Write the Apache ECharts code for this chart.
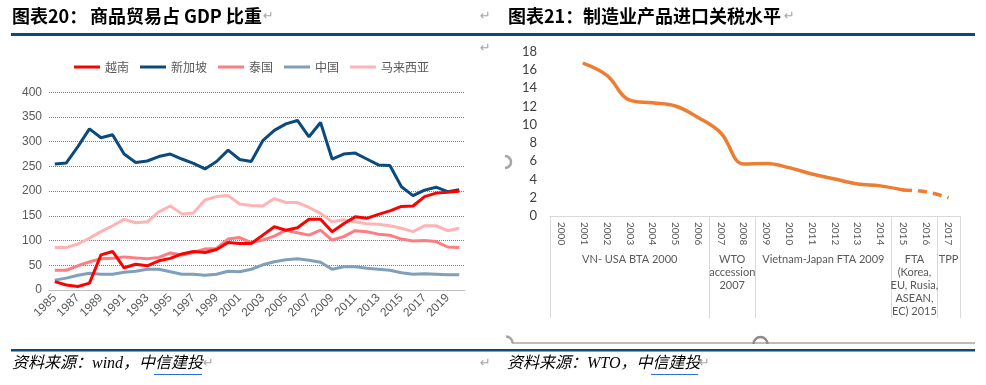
<!DOCTYPE html>
<html><head><meta charset="utf-8">
<script src="https://cdn.jsdelivr.net/npm/echarts@6/dist/echarts.min.js"></script>
<style>html,body{margin:0;padding:0;background:#fff}#c{width:986px;height:385px}</style>
</head><body><div id="c"></div>
<script>
// ---- Left chart: 商品贸易占 GDP 比重 ----
const years = ['1985','1986','1987','1988','1989','1990','1991','1992','1993','1994','1995','1996','1997','1998','1999','2000','2001','2002','2003','2004','2005','2006','2007','2008','2009','2010','2011','2012','2013','2014','2015','2016','2017','2018','2019','2020'];
const vietnam   = [17,10,7,14,71,78,45,52,49,59,64,73,78,76,82,96,94,94,111,128,121,126,143,143,118,134,148,145,153,160,169,170,189,196,198,200];
const singapore = [255,257,290,326,308,314,275,258,261,270,275,265,256,245,260,283,264,260,302,323,336,343,310,339,265,275,277,265,253,252,209,191,202,208,199,203];
const thailand  = [40,40,49,57,63,64,67,65,63,66,75,71,76,83,84,103,106,96,101,109,121,116,111,121,101,108,120,118,113,111,103,99,100,98,87,86];
const china     = [20,24,30,34,32,32,36,38,42,42,37,32,32,30,32,38,37,42,51,57,61,63,60,56,42,47,47,44,42,40,35,32,33,32,31,31];
const malaysia  = [86,86,93,105,118,130,143,136,138,158,170,154,156,182,189,191,174,171,170,185,177,177,167,155,138,142,138,134,133,130,125,118,130,130,120,125];
const leftNames = ['越南','新加坡','泰国','中国','马来西亚'];
const leftColors = ['#ff0000','#0b4a7c','#ff7c80','#7f9fba','#ffb3b5'];
const leftTicks = [0,50,100,150,200,250,300,350,400];

// ---- Right chart: 制造业产品进口关税水平 ----
const tariffYears = ['2000','2001','2002','2003','2004','2005','2006','2007','2008','2009','2010','2011','2012','2013','2014','2015','2016','2017'];
const tariffActual   = [null,16.7,15.4,12.7,12.4,12.05,10.8,9.1,5.7,5.75,5.3,4.6,4.05,3.5,3.3,2.85,null,null];
const tariffForecast = [null,null,null,null,null,null,null,null,null,null,null,null,null,null,null,2.85,2.65,2.0];
const rightTicks = [0,2,4,6,8,10,12,14,16,18];
const groupLabels = ['VN- USA BTA 2000','WTO\naccession\n2007','Vietnam-Japan FTA 2009','FTA\n(Korea,\nEU, Rusia,\nASEAN,\nEC) 2015','TPP'];
const groupCenters = [3.5, 8, 12, 16, 17.5];
const groupBounds = [0, 7, 9, 15, 17, 18];

const chart = echarts.init(document.getElementById('c'), null, {renderer:'canvas'});
const lineSeries = leftNames.map((n,i)=>({
  name:n, type:'line', xAxisIndex:0, yAxisIndex:0,
  data:[vietnam,singapore,thailand,china,malaysia][i],
  showSymbol:false, symbol:'none', lineStyle:{width:3,color:leftColors[i]}, itemStyle:{color:leftColors[i]},
  z: [6,5,3,2,4][i]
}));
const cjk = "'Noto Sans CJK SC'";
const RULE = '#0a4a7f';
const ARROW = {fill:'#a6a6a6', font:'13px "DejaVu Sans"'};
function arrow(x,y){return {type:'text',left:x,top:y,style:Object.assign({text:'\u21B5'},ARROW)};}

chart.setOption({
  animation:false,
  backgroundColor:'#fff',
  legend:{
    data:leftNames, left:74, top:61, padding:0, itemGap:11,
    icon:'rect', itemWidth:26, itemHeight:3,
    textStyle:{color:'#595959', fontSize:12, fontFamily:cjk}
  },
  grid:[
    {left:49, top:92.3, width:416, height:197.7, containLabel:false},
    {left:550, top:51.7, width:410, height:164.3, containLabel:false}
  ],
  xAxis:[
    {type:'category', gridIndex:0, data:years, boundaryGap:true,
     axisLine:{lineStyle:{color:'#bfbfbf'}},
     axisTick:{interval:3, length:5, lineStyle:{color:'#bfbfbf'}},
     axisLabel:{interval:1, rotate:45, color:'#595959', fontSize:12, fontFamily:'Liberation Sans', margin:6}},
    {type:'category', gridIndex:1, data:tariffYears, boundaryGap:true,
     axisLine:{lineStyle:{color:'#d9d9d9'}},
     axisTick:{show:false},
     axisLabel:{interval:0, rotate:-90, color:'#595959', fontSize:10, fontFamily:'Lato', margin:6}},
    {type:'value', gridIndex:1, min:0, max:18, position:'bottom',
     axisLine:{show:false}, splitLine:{show:false},
     axisTick:{show:true, customValues:groupBounds, length:102, lineStyle:{color:'#d9d9d9'}},
     axisLabel:{customValues:groupCenters, margin:37, lineHeight:13, fontSize:11, color:'#595959', fontFamily:'Lato',
       formatter:function(v){const i=groupCenters.indexOf(v);return i>=0?groupLabels[i]:'';}}}
  ],
  yAxis:[
    {type:'value', gridIndex:0, min:0, max:400, interval:50,
     axisLine:{show:false}, axisTick:{show:false},
     axisLabel:{color:'#595959', fontSize:12, fontFamily:'Liberation Sans', margin:7},
     splitLine:{lineStyle:{color:'#808080', type:'dotted', width:1}}},
    {type:'value', gridIndex:1, min:0, max:18, interval:2,
     axisLine:{show:false}, axisTick:{show:false}, splitLine:{show:false},
     axisLabel:{color:'#404040', fontSize:13, fontFamily:'Lato', margin:13}}
  ],
  series: lineSeries.concat([
    {type:'line', xAxisIndex:1, yAxisIndex:1, data:tariffActual, smooth:0.4, showSymbol:false, symbol:'none',
     lineStyle:{width:3.5, color:'#ed7d31', cap:'round'}, connectNulls:false},
    {type:'line', xAxisIndex:1, yAxisIndex:1, data:tariffForecast, smooth:0.4, showSymbol:false, symbol:'none',
     lineStyle:{width:3.5, color:'#ed7d31', type:[9,6]}, connectNulls:false}
  ]),
  graphic:[
    {type:'text', left:12, top:7, style:{text:'图表20：', fill:'#000', font:'bold 18px '+cjk}},
    {type:'text', left:90, top:7, style:{text:'商品贸易占 GDP 比重', fill:'#000', font:'bold 18px '+cjk}},
    arrow(263,10), arrow(480,10), arrow(480,42),
    {type:'text', left:508, top:7, style:{text:'图表21：', fill:'#000', font:'bold 18px '+cjk}},
    {type:'text', left:583, top:7, style:{text:'制造业产品进口关税水平', fill:'#000', font:'bold 18px '+cjk}},
    arrow(784,10),
    {type:'rect', shape:{x:11, y:33, width:964, height:3}, style:{fill:RULE}},
    {type:'rect', shape:{x:11, y:349, width:964, height:2.5}, style:{fill:RULE}},
    {type:'line', shape:{x1:512, y1:343, x2:975, y2:343}, style:{stroke:'#a6a6a6', lineWidth:1.5}},
    {type:'arc', shape:{cx:506, cy:343, r:6.5, startAngle:-Math.PI/2, endAngle:0}, style:{stroke:'#a6a6a6', lineWidth:2.5, fill:null}},
    {type:'arc', shape:{cx:760.5, cy:344, r:7, startAngle:Math.PI, endAngle:2*Math.PI}, style:{stroke:'#8c8c8c', lineWidth:2.5, fill:null}},
    {type:'arc', shape:{cx:505, cy:162, r:6, startAngle:-Math.PI/2, endAngle:Math.PI/2}, style:{stroke:'#a6a6a6', lineWidth:2.5, fill:null}},
    {type:'text', left:12, top:356, style:{text:'资料来源：wind，中信建投', fill:'#000', font:'italic 16px "Liberation Serif", '+cjk}},
    {type:'line', shape:{x1:154, y1:374.5, x2:202, y2:374.5}, style:{stroke:'#2e6fd1', lineWidth:1}},
    arrow(203,357), arrow(480,357),
    {type:'text', left:507, top:356, style:{text:'资料来源：WTO，中信建投', fill:'#000', font:'italic 16px "Liberation Serif", '+cjk}},
    {type:'line', shape:{x1:651, y1:374.5, x2:698, y2:374.5}, style:{stroke:'#2e6fd1', lineWidth:1}},
    arrow(699,357)
  ]
});
</script></body></html>
